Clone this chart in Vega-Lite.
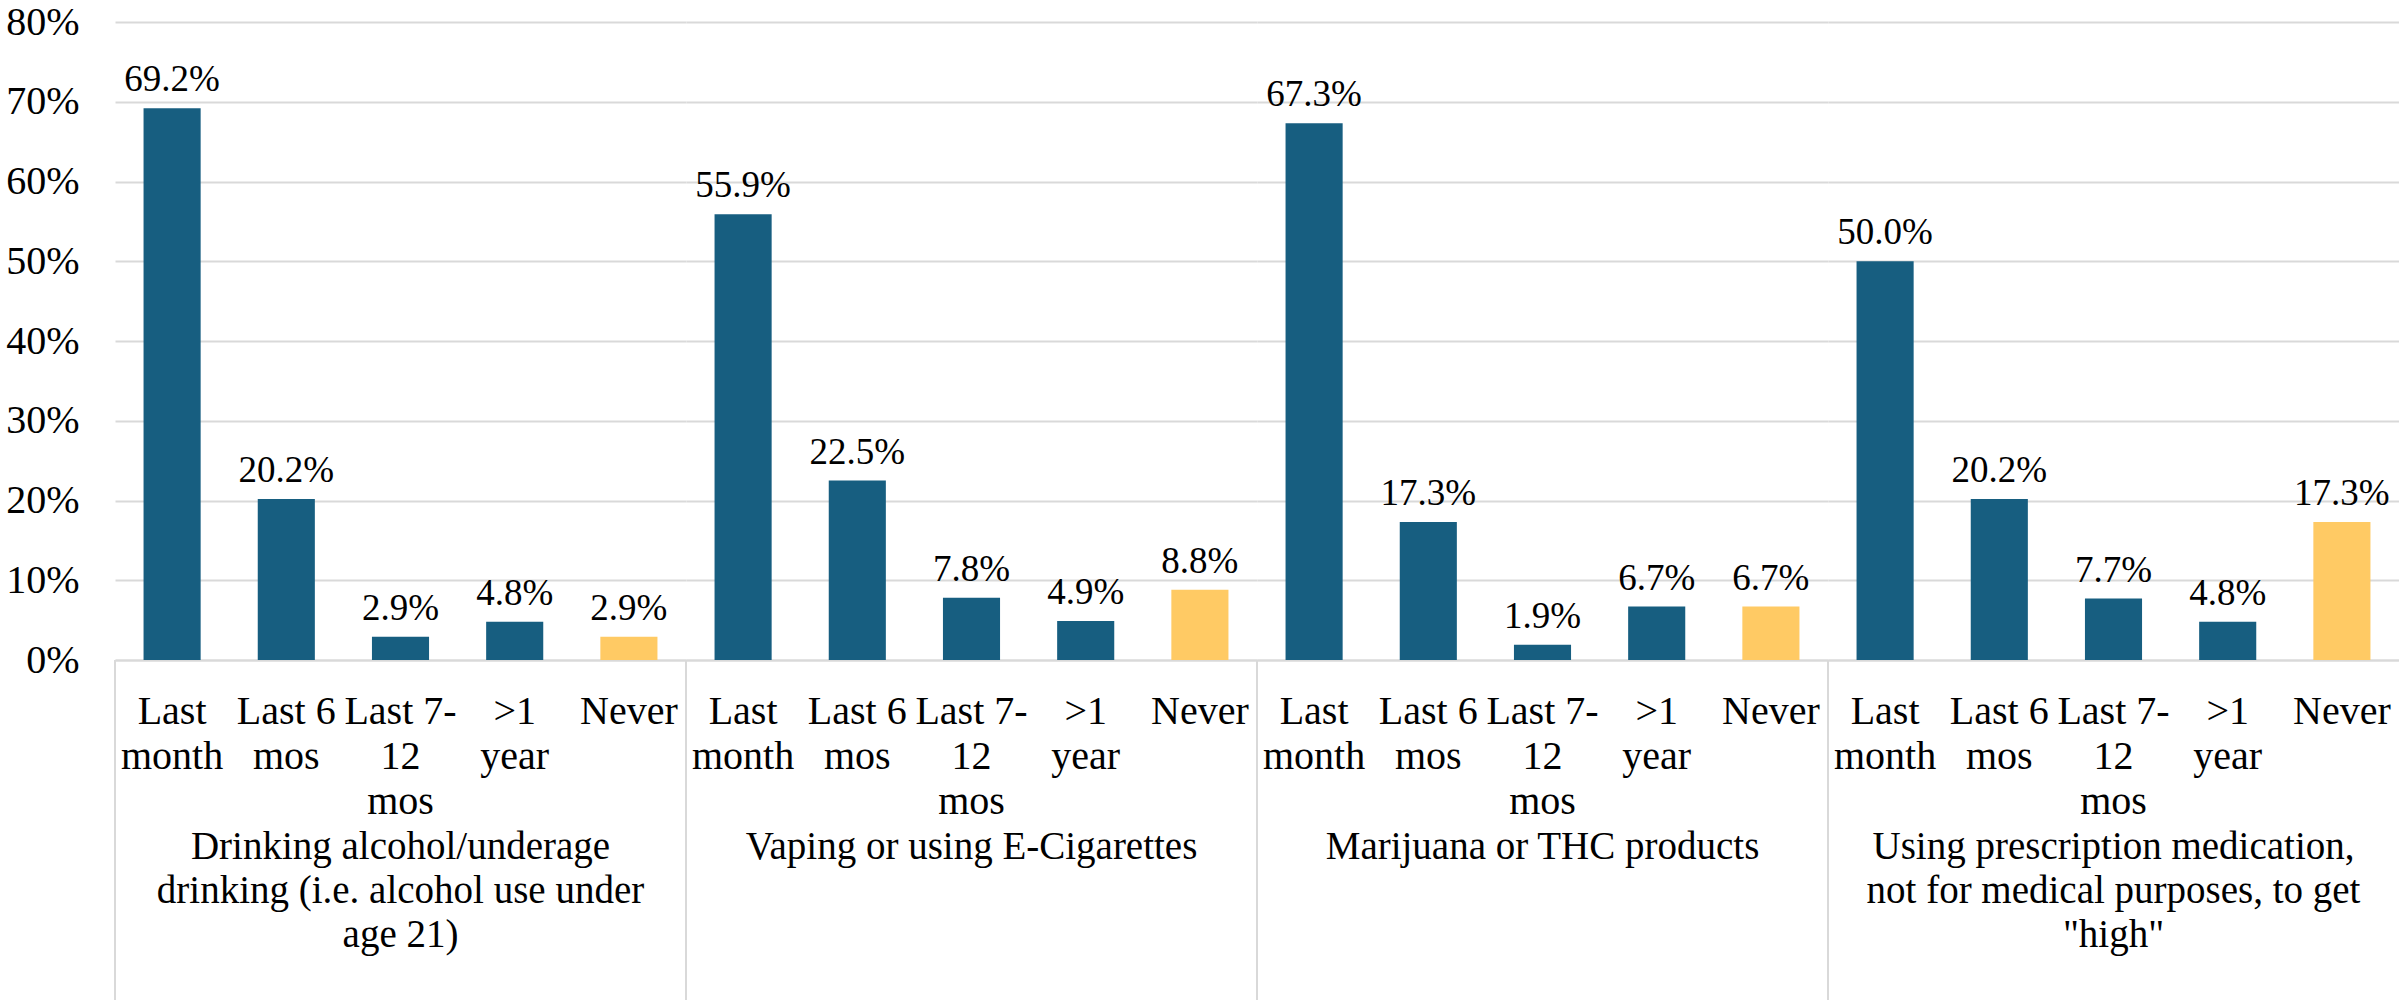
{
  "$schema": "https://vega.github.io/schema/vega-lite/v6.json",
  "padding": {"left": 5, "top": 2, "right": 0, "bottom": 0},
  "background": "white",
  "data": {"values": [
    {"group": "Drinking alcohol/underage|drinking (i.e. alcohol use under|age 21)", "cat": "Last month", "value": 0.692},
    {"group": "Drinking alcohol/underage|drinking (i.e. alcohol use under|age 21)", "cat": "Last 6 mos", "value": 0.202},
    {"group": "Drinking alcohol/underage|drinking (i.e. alcohol use under|age 21)", "cat": "Last 7-12 mos", "value": 0.029},
    {"group": "Drinking alcohol/underage|drinking (i.e. alcohol use under|age 21)", "cat": ">1 year", "value": 0.048},
    {"group": "Drinking alcohol/underage|drinking (i.e. alcohol use under|age 21)", "cat": "Never", "value": 0.029},
    {"group": "Vaping or using E-Cigarettes", "cat": "Last month", "value": 0.559},
    {"group": "Vaping or using E-Cigarettes", "cat": "Last 6 mos", "value": 0.225},
    {"group": "Vaping or using E-Cigarettes", "cat": "Last 7-12 mos", "value": 0.078},
    {"group": "Vaping or using E-Cigarettes", "cat": ">1 year", "value": 0.049},
    {"group": "Vaping or using E-Cigarettes", "cat": "Never", "value": 0.088},
    {"group": "Marijuana or THC products", "cat": "Last month", "value": 0.673},
    {"group": "Marijuana or THC products", "cat": "Last 6 mos", "value": 0.173},
    {"group": "Marijuana or THC products", "cat": "Last 7-12 mos", "value": 0.019},
    {"group": "Marijuana or THC products", "cat": ">1 year", "value": 0.067},
    {"group": "Marijuana or THC products", "cat": "Never", "value": 0.067},
    {"group": "Using prescription medication,|not for medical purposes, to get|\"high\"", "cat": "Last month", "value": 0.500},
    {"group": "Using prescription medication,|not for medical purposes, to get|\"high\"", "cat": "Last 6 mos", "value": 0.202},
    {"group": "Using prescription medication,|not for medical purposes, to get|\"high\"", "cat": "Last 7-12 mos", "value": 0.077},
    {"group": "Using prescription medication,|not for medical purposes, to get|\"high\"", "cat": ">1 year", "value": 0.048},
    {"group": "Using prescription medication,|not for medical purposes, to get|\"high\"", "cat": "Never", "value": 0.173}
  ]},
  "facet": {
    "column": {
      "field": "group",
      "type": "nominal",
      "sort": [
        "Drinking alcohol/underage|drinking (i.e. alcohol use under|age 21)",
        "Vaping or using E-Cigarettes",
        "Marijuana or THC products",
        "Using prescription medication,|not for medical purposes, to get|\"high\""
      ],
      "header": {
        "title": null,
        "labelOrient": "bottom",
        "labelExpr": "split(datum.label, '|')",
        "labelFont": "Liberation Serif",
        "labelFontSize": 39,
        "labelLineHeight": 44,
        "labelColor": "#000000",
        "labelPadding": 7,
        "labelBaseline": "top",
        "labelLimit": 0
      }
    }
  },
  "spacing": 0,
  "bounds": "flush",
  "spec": {
    "width": 571,
    "height": 638,
    "encoding": {
      "x": {
        "field": "cat",
        "type": "nominal",
        "sort": ["Last month", "Last 6 mos", "Last 7-12 mos", ">1 year", "Never"],
        "scale": {"paddingInner": 0.5, "paddingOuter": 0.25},
        "axis": {
          "title": null,
          "labelAngle": 0,
          "ticks": false,
          "domainColor": "#d9d9d9",
          "domainWidth": 2,
          "labelFont": "Liberation Serif",
          "labelFontSize": 40,
          "labelLineHeight": 45,
          "labelColor": "#000000",
          "labelPadding": 31,
          "labelOverlap": false,
          "labelBound": false,
          "labelFlush": false,
          "labelLimit": 0,
          "labelExpr": "datum.value == 'Last month' ? ['Last', 'month'] : datum.value == 'Last 6 mos' ? ['Last 6', 'mos'] : datum.value == 'Last 7-12 mos' ? ['Last 7-', '12', 'mos'] : datum.value == '>1 year' ? ['>1', 'year'] : datum.value"
        }
      }
    },
    "layer": [
      {
        "mark": {"type": "bar"},
        "encoding": {
          "y": {
            "field": "value",
            "type": "quantitative",
            "scale": {"domain": [0, 0.8], "nice": false},
            "axis": {
              "title": null,
              "values": [0, 0.1, 0.2, 0.3, 0.4, 0.5, 0.6, 0.7, 0.8],
              "format": ".0%",
              "domain": false,
              "ticks": false,
              "gridColor": "#d9d9d9",
              "gridWidth": 2,
              "labelFont": "Liberation Serif",
              "labelFontSize": 40,
              "labelColor": "#000000",
              "labelPadding": 36
            }
          },
          "color": {
            "field": "cat",
            "type": "nominal",
            "scale": {
              "domain": ["Last month", "Last 6 mos", "Last 7-12 mos", ">1 year", "Never"],
              "range": ["#175E80", "#175E80", "#175E80", "#175E80", "#FFCA64"]
            },
            "legend": null
          }
        }
      },
      {
        "mark": {"type": "text", "baseline": "alphabetic", "dy": -17, "font": "Liberation Serif", "fontSize": 37, "color": "#000000"},
        "encoding": {
          "y": {"field": "value", "type": "quantitative"},
          "text": {"field": "value", "type": "quantitative", "format": ".1%"}
        }
      },
      {
        "transform": [{"filter": "datum.cat == 'Last month'"}],
        "mark": {"type": "rule", "color": "#d9d9d9", "strokeWidth": 2},
        "encoding": {
          "x": {"field": "cat", "type": "nominal", "bandPosition": -0.5},
          "y": {"datum": 0},
          "y2": {"datum": -0.45}
        }
      }
    ]
  },
  "config": {
    "view": {"stroke": null},
    "font": "Liberation Serif"
  }
}
